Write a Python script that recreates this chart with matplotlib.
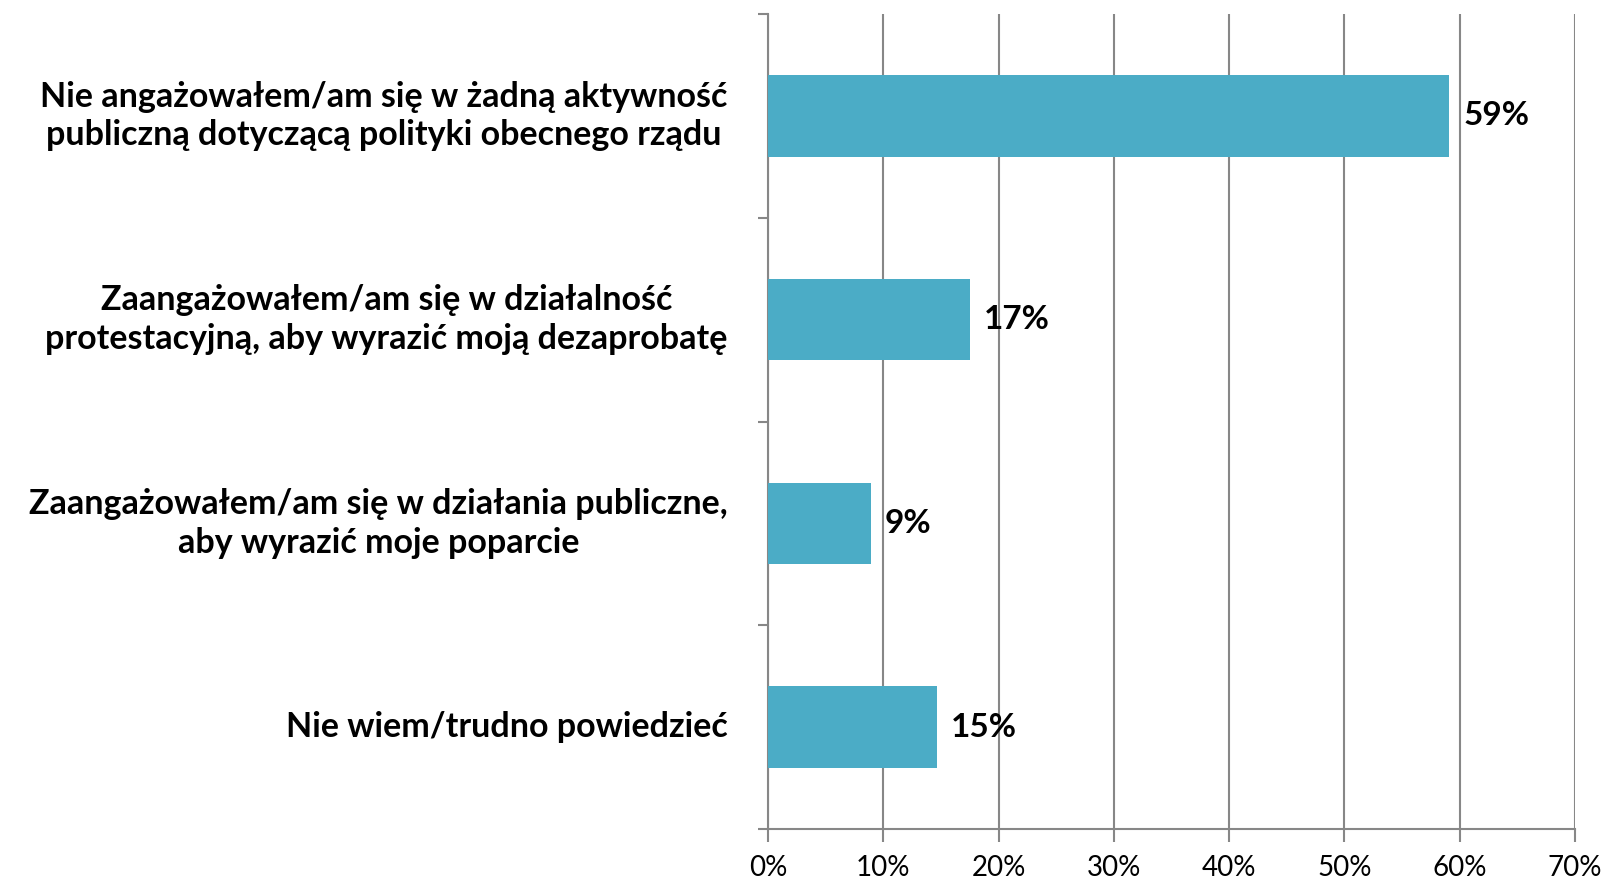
import matplotlib.pyplot as plt
from matplotlib.ticker import FuncFormatter

# dane
kategorie = [
    "Nie angażowałem/am się w żadną aktywność\npubliczną dotyczącą polityki obecnego rządu",
    "Zaangażowałem/am się w działalność\nprotestacyjną, aby wyrazić moją dezaprobatę",
    "Zaangażowałem/am się w działania publiczne,\naby wyrazić moje poparcie",
    "Nie wiem/trudno powiedzieć",
]
wartosci = [59.1, 17.5, 8.9, 14.7]
etykiety = ["59%", "17%", "9%", "15%"]
ticki_x = [0, 10, 20, 30, 40, 50, 60, 70]

plt.rcParams['font.family'] = ['Lato', 'DejaVu Sans']

fig = plt.figure(figsize=(16.08, 8.83), dpi=100)
ax = fig.add_axes([768 / 1608, 1 - 829 / 883, (1575 - 768) / 1608, (829 - 14) / 883])

pos = list(range(len(kategorie)))
ax.barh(pos, wartosci, height=0.4, color='#4BACC6', zorder=3)
ax.set_ylim(len(kategorie) - 0.5, -0.5)
ax.set_xlim(0, 70)

szary = '#878787'
ax.set_xticks(ticki_x)
ax.xaxis.set_major_formatter(FuncFormatter(lambda v, p: f"{int(v)}%"))
ax.grid(axis='x', color=szary, linewidth=1.5, zorder=0)
for s in ['top', 'right']:
    ax.spines[s].set_visible(False)
for s in ['left', 'bottom']:
    ax.spines[s].set_color(szary)
    ax.spines[s].set_linewidth(1.5)

# ticki osi y na granicach kategorii
ax.set_yticks([p - 0.5 for p in pos] + [len(kategorie) - 0.5])
ax.set_yticklabels([])
ax.tick_params(axis='y', length=7, width=1.5, color=szary, direction='out')
ax.tick_params(axis='x', length=9, width=1.5, color=szary, labelsize=20, pad=10)

for p, k in zip(pos, kategorie):
    ax.text(-0.05, p, k, transform=ax.get_yaxis_transform(), ha='right', va='center',
            multialignment='center', fontsize=24.5, fontweight='bold', linespacing=1.25)

for p, v, e in zip(pos, wartosci, etykiety):
    ax.text(v + 1.2, p, e, ha='left', va='center', fontsize=24, fontweight='bold')

fig.savefig('out.png', dpi=100)
